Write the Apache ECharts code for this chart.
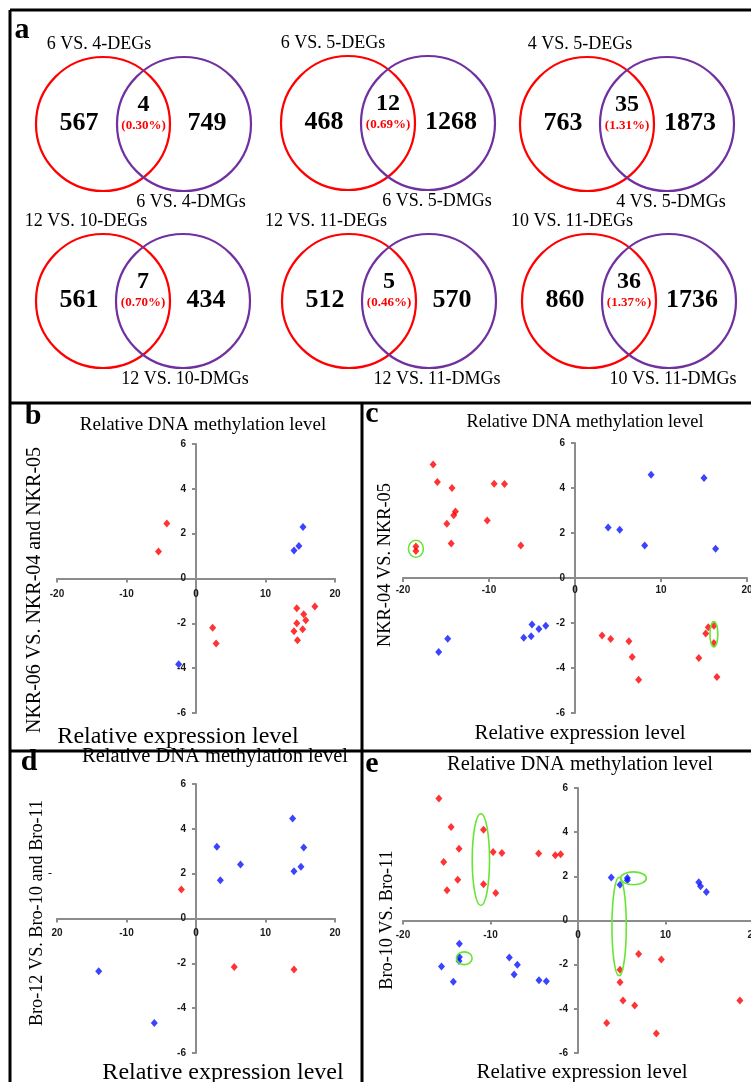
<!DOCTYPE html>
<html>
<head>
<meta charset="utf-8">
<script src="https://cdn.jsdelivr.net/npm/echarts@6/dist/echarts.min.js"></script>
<style>
html, body { margin: 0; padding: 0; background: #fff; }
#main { width: 751px; height: 1082px; }
</style>
</head>
<body>
<div id="main"></div>
<script>
// panel a: overlap of DEGs and DMGs
const vennDEG = ['6 VS. 4-DEGs', '6 VS. 5-DEGs', '4 VS. 5-DEGs', '12 VS. 10-DEGs', '12 VS. 11-DEGs', '10 VS. 11-DEGs']
const vennDMG = ['6 VS. 4-DMGs', '6 VS. 5-DMGs', '4 VS. 5-DMGs', '12 VS. 10-DMGs', '12 VS. 11-DMGs', '10 VS. 11-DMGs']
const vennLeft = [567, 468, 763, 561, 512, 860]
const vennBoth = [4, 12, 35, 7, 5, 36]
const vennRight = [749, 1268, 1873, 434, 570, 1736]
const vennShare = ['0.30%', '0.69%', '1.31%', '0.70%', '0.46%', '1.37%']

// panels b-e: relative expression (x) vs relative methylation (y)
const xRange = [-20, 20]
const xStep = 10
const yRange = [-6, 6]
const yStep = 2
const xTickText = ['-20', '-10', '0', '10', '20']
const xTickTextD = ['20', '-10', '0', '10', '20'] // panel d prints its left end without the sign
const yTickText = ['-6', '-4', '-2', '0', '2', '4', '6']

const bRed = [[-4.2, 2.45], [-5.4, 1.2], [2.4, -2.2], [2.9, -2.9], [17.1, -1.25], [14.5, -1.33],
  [15.5, -1.6], [15.8, -1.86], [14.5, -2.0], [14.1, -2.35], [15.35, -2.26], [14.6, -2.75]]
const bBlue = [[15.4, 2.3], [14.8, 1.45], [14.1, 1.25], [-2.5, -3.82]]

const cRed = [[-16.5, 5.05], [-16.0, 4.27], [-14.3, 4.0], [-13.9, 2.96], [-14.1, 2.79], [-14.9, 2.41],
  [-14.4, 1.53], [-18.5, 1.4], [-18.5, 1.2], [-10.2, 2.56], [-9.4, 4.19], [-8.2, 4.18], [-6.3, 1.45],
  [3.15, -2.56], [4.15, -2.71], [6.27, -2.81], [6.65, -3.51], [7.4, -4.52], [15.5, -2.19],
  [15.2, -2.47], [16.15, -2.12], [16.15, -2.89], [14.4, -3.56], [16.5, -4.4]]
const cBlue = [[3.85, 2.24], [5.2, 2.15], [8.1, 1.45], [8.85, 4.59], [15.0, 4.44], [16.35, 1.3],
  [-15.85, -3.29], [-14.8, -2.7], [-5.96, -2.65], [-5.1, -2.59], [-5.0, -2.07], [-4.2, -2.27], [-3.4, -2.12]]

const dRed = [[-2.1, 1.29], [5.5, -2.16], [14.1, -2.28]]
const dBlue = [[13.9, 4.46], [3.0, 3.2], [15.5, 3.17], [6.4, 2.41], [15.1, 2.31], [14.1, 2.11],
  [3.5, 1.71], [-14.0, -2.35], [-6.0, -4.66]]

const eRed = [[-15.9, 5.52], [-14.5, 4.23], [-13.6, 3.25], [-15.35, 2.65], [-14.97, 1.37], [-13.75, 1.85],
  [-10.8, 4.11], [-10.8, 1.64], [-9.7, 3.1], [-8.7, 3.06], [-9.4, 1.25], [-4.5, 3.03], [-2.6, 2.95],
  [-1.98, 3.0], [4.8, -2.23], [4.8, -2.8], [5.14, -3.62], [6.48, -3.85], [3.28, -4.64], [6.93, -1.52],
  [9.52, -1.77], [8.95, -5.12], [18.5, -3.62]]
const eBlue = [[3.8, 1.95], [4.8, 1.62], [5.64, 1.92], [5.64, 1.82], [13.8, 1.73], [14.0, 1.55],
  [14.67, 1.29], [-15.6, -2.08], [-14.25, -2.77], [-13.56, -1.05], [-13.56, -1.65], [-13.6, -1.83],
  [-7.85, -1.67], [-6.93, -2.0], [-7.3, -2.44], [-4.46, -2.71], [-3.62, -2.75]]

// green rings: [x, y, half width, half height] in data units
const cRings = [[-18.5, 1.3, 0.87, 0.38], [16.15, -2.5, 0.46, 0.56]]
const eRings = [[-11.1, 2.76, 0.99, 2.08], [4.7, -0.27, 0.82, 2.23], [6.34, 1.91, 1.47, 0.29], [-13.0, -1.71, 0.9, 0.29]]

const RED = '#ff0000'
const BLUE = '#0a14ff'
const PURPLE = '#7030a0'
const GREEN = '#66e633'
const SERIF = 'Liberation Serif'

const chart = echarts.init(document.getElementById('main'))

const panels = [
  { grid: { left: 57, top: 444, width: 278, height: 269 }, red: bRed, blue: bBlue, xText: xTickText, labelGap: 16 },
  { grid: { left: 403, top: 443, width: 344, height: 270 }, red: cRed, blue: cBlue, xText: xTickText, labelGap: 12 },
  { grid: { left: 57, top: 784, width: 278, height: 269 }, red: dRed, blue: dBlue, xText: xTickTextD, labelGap: 15 },
  { grid: { left: 403, top: 788, width: 350, height: 265 }, red: eRed, blue: eBlue, xText: xTickText, labelGap: 15 }
]

const axisGrey = '#8c8c8c'

const grids = []
const xAxes = []
const yAxes = []
const series = []
panels.forEach(function(p, i) {
  grids.push(Object.assign({ outerBoundsMode: 'none', containLabel: false }, p.grid))
  xAxes.push({
    gridIndex: i, type: 'value', min: xRange[0], max: xRange[1], interval: xStep,
    axisLine: { onZero: true, lineStyle: { color: axisGrey, width: 2 } },
    axisTick: { show: true, length: 4, lineStyle: { color: axisGrey, width: 2 } },
    splitLine: { show: false },
    axisLabel: { show: false }
  })
  yAxes.push({
    gridIndex: i, type: 'value', min: yRange[0], max: yRange[1], interval: yStep,
    axisLine: { onZero: true, lineStyle: { color: axisGrey, width: 2 } },
    axisTick: { show: true, length: 4, lineStyle: { color: axisGrey, width: 2 } },
    splitLine: { show: false },
    axisLabel: { show: false }
  })
  series.push({
    type: 'scatter', xAxisIndex: i, yAxisIndex: i, data: p.red,
    symbol: 'diamond', symbolSize: [7, 8], itemStyle: { color: RED }, z: 5
  })
  series.push({
    type: 'scatter', xAxisIndex: i, yAxisIndex: i, data: p.blue,
    symbol: 'diamond', symbolSize: [7, 8], itemStyle: { color: BLUE }, z: 5
  })
})

chart.setOption({
  animation: false,
  backgroundColor: '#fff',
  grid: grids,
  xAxis: xAxes,
  yAxis: yAxes,
  series: series
})

function txt(s, x, y, size, opts) {
  opts = opts || {}
  const align = opts.align || 'center'
  return {
    type: 'text', x: x, y: y, rotation: opts.rot || 0, z: 20,
    style: {
      text: s, fontSize: size, fontFamily: opts.family || SERIF,
      fontWeight: opts.bold ? 'bold' : 'normal', fill: opts.color || '#000',
      align: align, verticalAlign: 'middle', textAlign: align, textVerticalAlign: 'middle'
    }
  }
}

function line(x1, y1, x2, y2) {
  return { type: 'line', z: 30, shape: { x1: x1, y1: y1, x2: x2, y2: y2 }, style: { stroke: '#000', lineWidth: 3 } }
}

function ring(gridIndex, m) {
  const c = chart.convertToPixel({ gridIndex: gridIndex }, [m[0], m[1]])
  const ex = chart.convertToPixel({ gridIndex: gridIndex }, [m[0] + m[2], m[1]])
  const ey = chart.convertToPixel({ gridIndex: gridIndex }, [m[0], m[1] + m[3]])
  return {
    type: 'ellipse', z: 15,
    shape: { cx: c[0], cy: c[1], rx: Math.abs(ex[0] - c[0]), ry: Math.abs(ey[1] - c[1]) },
    style: { fill: 'none', stroke: GREEN, lineWidth: 1.6 }
  }
}

const g = []

// tick labels placed on the axes that cross at zero
const tickOpts = { bold: true, family: 'Liberation Sans', color: '#1a1a1a' }
panels.forEach(function(p, i) {
  p.xText.forEach(function(s, k) {
    const pt = chart.convertToPixel({ gridIndex: i }, [xRange[0] + k * xStep, 0])
    g.push(txt(s, pt[0], pt[1] + p.labelGap, 10, tickOpts))
  })
  yTickText.forEach(function(s, k) {
    const pt = chart.convertToPixel({ gridIndex: i }, [0, yRange[0] + k * yStep])
    g.push(txt(s, pt[0] - 10, pt[1], 10, Object.assign({ align: 'right' }, tickOpts)))
  })
})

// panel a
const vennPos = [[103, 184, 124], [348, 428, 123], [587, 667, 124], [103, 183, 301], [349, 429, 301], [589, 669, 301]]
const degShift = [-4, -15, -7, -17, -23, -17]
const dmgShift = [7, 9, 4, 2, 8, 4]
const vennR = 67
vennPos.forEach(function(v, i) {
  const mid = (v[0] + v[1]) / 2
  g.push({ type: 'circle', z: 10, shape: { cx: v[0], cy: v[2], r: vennR }, style: { fill: 'none', stroke: RED, lineWidth: 2.2 } })
  g.push({ type: 'circle', z: 10, shape: { cx: v[1], cy: v[2], r: vennR }, style: { fill: 'none', stroke: PURPLE, lineWidth: 2.2 } })
  g.push(txt(vennDEG[i], v[0] + degShift[i], v[2] - 80, 18))
  g.push(txt(vennDMG[i], v[1] + dmgShift[i], v[2] + 78, 18))
  g.push(txt(String(vennLeft[i]), v[0] - 24, v[2] - 1, 26, { bold: true }))
  g.push(txt(String(vennRight[i]), v[1] + 23, v[2] - 1, 26, { bold: true }))
  g.push(txt(String(vennBoth[i]), mid, v[2] - 19, 24, { bold: true }))
  g.push(txt('(' + vennShare[i] + ')', mid, v[2] + 2, 13, { bold: true, color: RED }))
})
g.push(txt('a', 22, 30, 30, { bold: true }))

// panel letters and titles
const methTitle = 'Relative DNA methylation level'
const exprTitle = 'Relative expression level'
g.push(txt('b', 33, 416, 30, { bold: true }))
g.push(txt('c', 372, 414, 30, { bold: true }))
g.push(txt('d', 29, 762, 30, { bold: true }))
g.push(txt('e', 372, 764, 30, { bold: true }))
g.push(txt(methTitle, 203, 425, 19))
g.push(txt(methTitle, 585, 422, 18.3))
g.push(txt(methTitle, 215, 757, 20.5))
g.push(txt(methTitle, 580, 765, 20.5))
g.push(txt(exprTitle, 178, 737, 24))
g.push(txt(exprTitle, 580, 733, 21))
g.push(txt(exprTitle, 223, 1073, 24))
g.push(txt(exprTitle, 582, 1072, 21))
g.push(txt('NKR-06 VS. NKR-04 and NKR-05', 35, 590, 20, { rot: Math.PI / 2 }))
g.push(txt('NKR-04 VS. NKR-05', 385, 565, 18.4, { rot: Math.PI / 2 }))
g.push(txt('Bro-12 VS. Bro-10 and Bro-11', 37, 913, 18.2, { rot: Math.PI / 2 }))
g.push(txt('Bro-10 VS. Bro-11', 387, 920, 18.2, { rot: Math.PI / 2 }))
g.push(txt('-', 50, 874, 12))

// green rings
cRings.forEach(function(m) { g.push(ring(1, m)) })
eRings.forEach(function(m) { g.push(ring(3, m)) })

// panel frames
g.push(line(10, 10, 751, 10))
g.push(line(10, 10, 10, 1082))
g.push(line(10, 403, 751, 403))
g.push(line(10, 751, 751, 751))
g.push(line(362, 403, 362, 1082))

chart.setOption({ graphic: g })
</script>
</body>
</html>
